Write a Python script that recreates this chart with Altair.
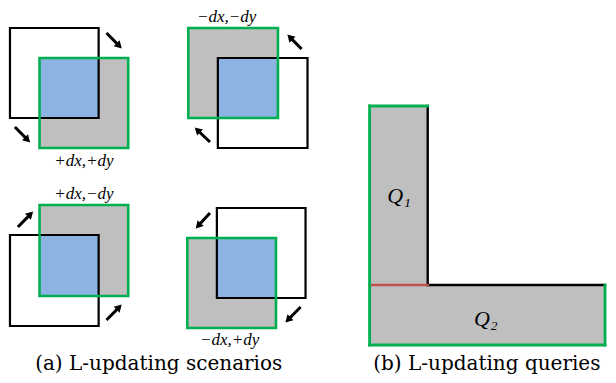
import math
import altair as alt
import pandas as pd

# ---- panel (a): four scenarios (coordinates in figure pixels) ----
# black (old) squares: x1, y1, x2, y2
old_sq = [(10, 28, 100, 118), (221, 58, 312, 148), (10, 235, 100, 326), (220, 208, 310, 298)]
# green (new) squares
new_sq = [(40, 58, 130, 148), (191, 28, 282, 118), (40, 205, 130, 296), (190, 238, 280, 328)]
# arrows: tail x, tail y, head x, head y
arrows = [(108, 33, 123, 48), (15, 127, 30, 142),
          (306, 49, 292, 35), (213, 142, 198, 128),
          (18, 227, 33, 212), (108, 320, 123, 305),
          (213, 213, 199, 228), (305, 307, 290, 322)]
labels = ["+dx,+dy", "\u2212dx,\u2212dy", "+dx,\u2212dy", "\u2212dx,+dy"]
label_pos = [(85, 161), (230, 17), (85, 194), (233, 340)]

# ---- panel (b): L-shaped query ----
L_fill = [(375, 106, 434, 285), (375, 285, 614, 345)]
L_green = [(375, 106, 434, 106), (375, 106, 375, 345), (375, 345, 614, 345), (614, 285, 614, 345)]
L_black = [(434, 106, 434, 285), (434, 285, 614, 285)]
L_red = [(375, 285, 434, 285)]
q_labels = ["Q\u2081", "Q\u2082"]
q_pos = [(405, 196), (493, 319)]

captions = ["(a) L-updating scenarios", "(b) L-updating queries"]
caption_pos = [(161, 370), (494, 370)]

GRAY = "#bfbfbf"
BLUE = "#8db3e2"
GREEN = "#00b050"
RED = "#c0504d"

X = alt.Scale(domain=[8, 617], nice=False, zero=False)
Y = alt.Scale(domain=[8, 375], nice=False, zero=False, reverse=True)


def rect_df(rows, color):
    return pd.DataFrame([dict(x1=a, y1=b, x2=c, y2=d, c=color) for a, b, c, d in rows])


# fills
fills = rect_df(new_sq, GRAY)
overlap = []
for o, n in zip(old_sq, new_sq):
    overlap.append((max(o[0], n[0]), max(o[1], n[1]), min(o[2], n[2]), min(o[3], n[3])))
fill_df = pd.concat([fills, rect_df(overlap, BLUE), rect_df(L_fill, GRAY)])

enc_rect = dict(
    x=alt.X("x1:Q", scale=X, axis=None),
    x2="x2:Q",
    y=alt.Y("y1:Q", scale=Y, axis=None),
    y2="y2:Q",
)

fill_layer = alt.Chart(fill_df).mark_rect().encode(
    color=alt.Color("c:N", scale=None), **enc_rect)

old_layer = alt.Chart(rect_df(old_sq, "black")).mark_rect(
    fillOpacity=0, stroke="black", strokeWidth=2.2).encode(**enc_rect)
new_layer = alt.Chart(rect_df(new_sq, GREEN)).mark_rect(
    fillOpacity=0, stroke=GREEN, strokeWidth=2.6).encode(**enc_rect)


def rule_layer(rows, color, w):
    return alt.Chart(rect_df(rows, color)).mark_rule(
        color=color, strokeWidth=w, strokeCap="square").encode(**enc_rect)


L_layers = [rule_layer(L_black, "black", 2.4), rule_layer(L_red, RED, 2.4),
            rule_layer(L_green, GREEN, 2.8)]

# arrows
arr_rows = []
for tx, ty, hx, hy in arrows:
    dx, dy = hx - tx, hy - ty
    L = math.hypot(dx, dy)
    ang = math.degrees(math.atan2(dx, -dy)) % 360
    arr_rows.append(dict(x1=tx, y1=ty, x2=hx - dx / L * 4, y2=hy - dy / L * 4,
                         hx=hx - dx / L * 3, hy=hy - dy / L * 3, ang=ang))
arr_df = pd.DataFrame(arr_rows)
arrow_shaft = alt.Chart(arr_df).mark_rule(color="black", strokeWidth=3).encode(**enc_rect)
arrow_head = alt.Chart(arr_df).mark_point(
    shape="triangle-up", filled=True, color="black", opacity=1, size=70).encode(
    x=alt.X("hx:Q", scale=X, axis=None),
    y=alt.Y("hy:Q", scale=Y, axis=None),
    angle=alt.Angle("ang:Q", scale=None))


def text_layer(texts, pos, size, style, font, baseline="middle"):
    df = pd.DataFrame([dict(t=t, x=p[0], y=p[1]) for t, p in zip(texts, pos)])
    return alt.Chart(df).mark_text(
        fontSize=size, fontStyle=style, font=font, color="black",
        align="center", baseline=baseline).encode(
        x=alt.X("x:Q", scale=X, axis=None),
        y=alt.Y("y:Q", scale=Y, axis=None),
        text="t:N")


SERIF = "Liberation Serif"
lab_layer = text_layer(labels, label_pos, 17, "italic", SERIF)
q_layer = text_layer(q_labels, q_pos, 22, "italic", SERIF)
cap_layer = text_layer(captions, caption_pos, 20, "normal", "DejaVu Serif", "alphabetic")

chart = alt.layer(
    fill_layer, old_layer, new_layer, *L_layers, arrow_shaft, arrow_head,
    lab_layer, q_layer, cap_layer
).properties(
    width=600, height=367, padding=0, autosize=alt.AutoSizeParams(type="none"),
    background="white"
).configure_view(stroke=None)

chart.save("out.html", embed_options={"renderer": "svg", "actions": False})
